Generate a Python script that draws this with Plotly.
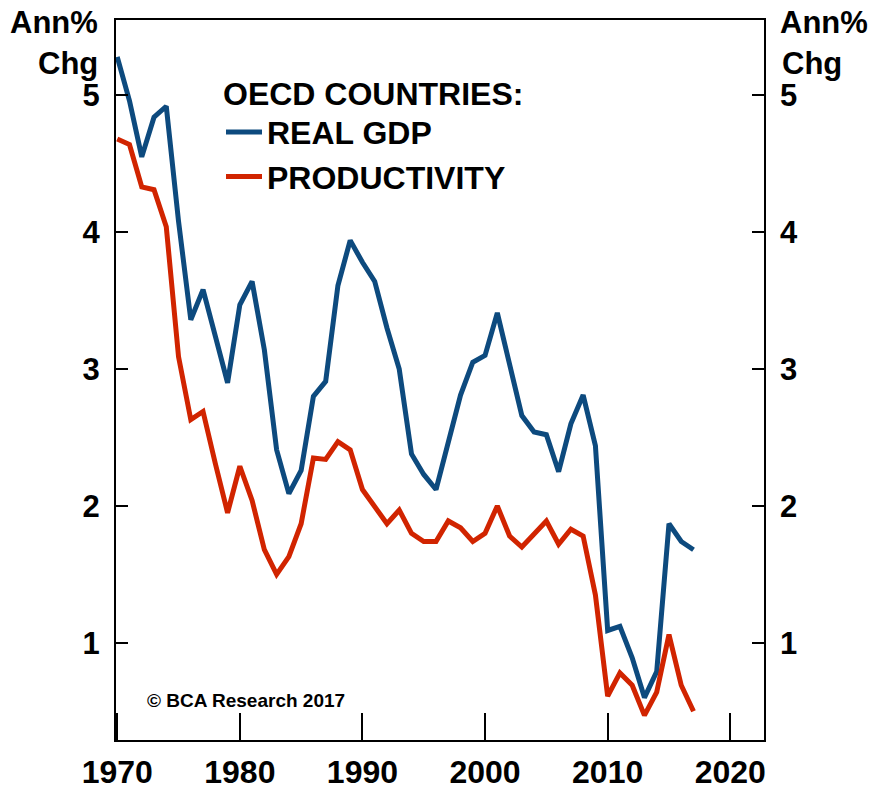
import plotly.graph_objects as go

# Annual % change, OECD countries
years = list(range(1970, 2018))
real_gdp = [5.28, 4.96, 4.55, 4.84, 4.92, 4.08, 3.36, 3.58, 3.24, 2.90,
            3.47, 3.64, 3.14, 2.41, 2.09, 2.26, 2.80, 2.91, 3.61, 3.94,
            3.78, 3.64, 3.30, 3.00, 2.38, 2.23, 2.12, 2.48, 2.81, 3.05,
            3.10, 3.41, 3.04, 2.66, 2.54, 2.52, 2.25, 2.60, 2.81, 2.44,
            1.09, 1.12, 0.89, 0.60, 0.79, 1.87, 1.74, 1.68]
productivity = [4.68, 4.64, 4.33, 4.31, 4.04, 3.09, 2.63, 2.69, 2.31, 1.95,
                2.29, 2.04, 1.68, 1.50, 1.63, 1.87, 2.35, 2.34, 2.47, 2.41,
                2.12, 2.00, 1.87, 1.97, 1.80, 1.74, 1.74, 1.89, 1.84, 1.74,
                1.80, 2.00, 1.78, 1.70, 1.80, 1.89, 1.72, 1.83, 1.78, 1.35,
                0.61, 0.78, 0.69, 0.47, 0.64, 1.06, 0.69, 0.50]

x_ticks = [1970, 1980, 1990, 2000, 2010, 2020]
y_ticks = [1, 2, 3, 4, 5]

BLUE = "#0d4a7e"
RED = "#d12400"
FONT = "Liberation Sans, Arial, sans-serif"

fig = go.Figure()
fig.add_trace(go.Scatter(x=years, y=real_gdp, mode="lines", name="REAL GDP",
                         line=dict(color=BLUE, width=5)))
fig.add_trace(go.Scatter(x=years, y=productivity, mode="lines", name="PRODUCTIVITY",
                         line=dict(color=RED, width=5)))

y_range = [0.29, 5.55]
axis_font = dict(family=FONT, size=31, color="black", weight="bold")

fig.update_layout(
    width=873, height=789,
    margin=dict(l=116, r=109, t=20, b=49),
    paper_bgcolor="white", plot_bgcolor="white",
    font=dict(family=FONT, color="black"),
    showlegend=True,
    legend=dict(
        x=(221 - 116) / 648, y=(740 - 63) / 720, xanchor="left", yanchor="top",
        bgcolor="rgba(0,0,0,0)", borderwidth=0, tracegroupgap=0, itemwidth=36,
        title=dict(text="OECD COUNTRIES:", font=dict(family=FONT, size=32, weight="bold")),
        font=dict(family=FONT, size=32, weight="bold", color="black"),
    ),
    xaxis=dict(
        range=[1969.9, 2022.75], tickvals=x_ticks, ticktext=[str(v) for v in x_ticks],
        ticks="inside", ticklen=27, tickwidth=2, tickcolor="black",
        showline=True, linewidth=2, linecolor="black", mirror=True,
        showgrid=False, zeroline=False, automargin=False,
        tickfont=dict(family=FONT, size=32, color="black", weight="bold"),
        ticklabelstandoff=3,
    ),
    yaxis=dict(
        range=y_range, tickvals=y_ticks,
        ticks="inside", ticklen=12, tickwidth=2, tickcolor="black",
        showline=True, linewidth=2, linecolor="black", mirror=True,
        showgrid=False, zeroline=False, tickfont=axis_font, automargin=False,
        ticklabelstandoff=8,
    ),
    yaxis2=dict(
        range=y_range, tickvals=y_ticks, overlaying="y", side="right",
        ticks="inside", ticklen=12, tickwidth=2, tickcolor="black",
        showline=False, showgrid=False, zeroline=False, tickfont=axis_font,
        automargin=False, ticklabelstandoff=15,
    ),
)

# keep the right-hand axis alive with an invisible copy of the data
fig.add_trace(go.Scatter(x=years, y=real_gdp, yaxis="y2", mode="lines",
                         line=dict(width=0), hoverinfo="skip", showlegend=False,
                         opacity=0))

unit_font = dict(family=FONT, size=31, color="black", weight="bold")
fig.add_annotation(text="Ann%", xref="paper", yref="paper", x=0, y=1,
                   xanchor="right", yanchor="middle", xshift=-16, yshift=-2,
                   showarrow=False, font=unit_font)
fig.add_annotation(text="Chg", xref="paper", yref="paper", x=0, y=1,
                   xanchor="right", yanchor="middle", xshift=-16, yshift=-43,
                   showarrow=False, font=unit_font)
fig.add_annotation(text="Ann%", xref="paper", yref="paper", x=1, y=1,
                   xanchor="left", yanchor="middle", xshift=14, yshift=-2,
                   showarrow=False, font=unit_font)
fig.add_annotation(text="Chg", xref="paper", yref="paper", x=1, y=1,
                   xanchor="left", yanchor="middle", xshift=16, yshift=-43,
                   showarrow=False, font=unit_font)
fig.add_annotation(text="© BCA Research 2017", xref="paper", yref="paper",
                   x=(145 - 116) / 648, y=(740 - 700) / 720,
                   xanchor="left", yanchor="middle", showarrow=False,
                   font=dict(family=FONT, size=19, color="black", weight="bold"))

fig.write_html("out.html")
